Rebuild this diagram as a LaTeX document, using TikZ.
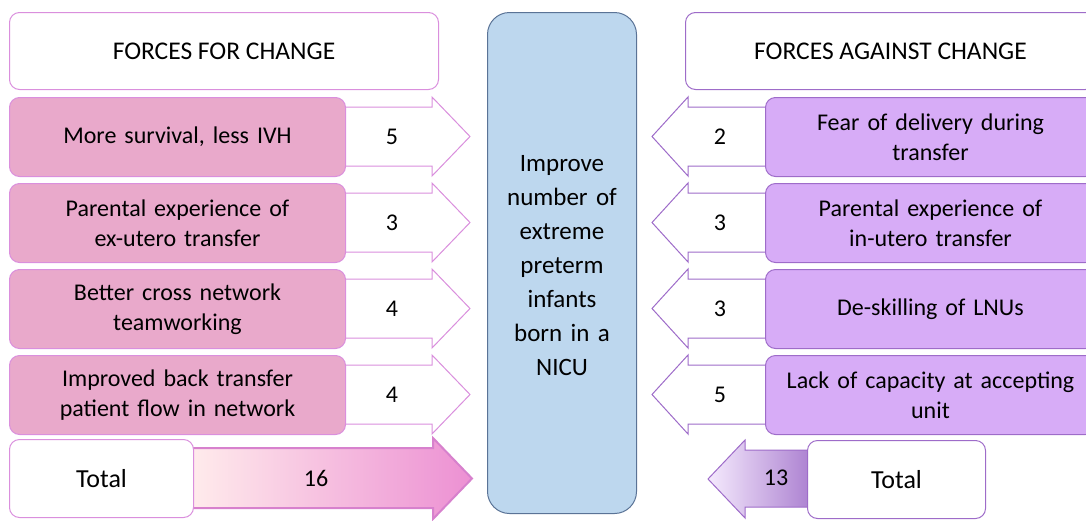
\documentclass[tikz,border=0pt]{standalone}
\usepackage{fontspec}
\setmainfont{Carlito}
\usepackage{xcolor}

\definecolor{forline}{HTML}{DA8FDD}
\definecolor{forfill}{HTML}{E9A9CB}
\definecolor{agline}{HTML}{9E6CC9}
\definecolor{agfill}{HTML}{D7ACF7}
\definecolor{goalfill}{HTML}{BDD7EE}
\definecolor{goalline}{HTML}{5A7396}

\begin{document}
\begin{tikzpicture}[x=1pt,y=-1pt,
  hdrbox/.style={draw, line width=1pt, rounded corners=10pt, fill=white, anchor=north west,
    minimum height=77pt, font=\fontsize{25.5}{30}\selectfont},
  rowbox/.style={draw, line width=1pt, rounded corners=10pt, anchor=north west,
    minimum height=79pt, align=center, font=\fontsize{24}{30}\selectfont},
  forbox/.style={rowbox, draw=forline, fill=forfill, minimum width=336pt, text width=320pt},
  agbox/.style={rowbox, draw=agline, fill=agfill, minimum width=330pt, text width=320pt},
  forarrow/.style={draw=forline, line width=1pt, fill=white},
  agarrow/.style={draw=agline, line width=1pt, fill=white},
  numtxt/.style={font=\fontsize{24}{28}\selectfont},
  totbox/.style={draw, line width=1pt, rounded corners=10pt, fill=white, anchor=north west,
    minimum height=78pt, font=\fontsize{26}{30}\selectfont}]

  \useasboundingbox (0,0) rectangle (1086,520);

  %headers
  \node[hdrbox, draw=forline, minimum width=429pt] (forhdr) at (9,12) {FORCES FOR CHANGE};
  \node[hdrbox, draw=agline, minimum width=410pt] (aghdr) at (685,12) {FORCES AGAINST CHANGE};

  %goal in the middle
  \node[draw=goalline, line width=1pt, fill=goalfill, rounded corners=22pt, anchor=north west,
    minimum width=149pt, minimum height=501pt] (goal) at (487,12) {};
  \node[text width=140pt, align=center, font=\fontsize{25}{34}\selectfont] (goaltxt)
    at ([yshift=-3pt]goal.center)
    {Improve\\ number of\\ extreme\\ preterm\\ infants\\ born in a\\ NICU};

  %arrows for change
  \foreach \yy/\nn/\nm in {97/5/fn1, 183/3/fn2, 269/4/fn3, 355/4/fn4} {
    \draw[forarrow] (340,\yy+10) -- (432,\yy+10) -- (432,\yy) -- (470,\yy+39.5)
      -- (432,\yy+79) -- (432,\yy+69) -- (340,\yy+69) -- cycle;
    \node[numtxt] (\nm) at (392,\yy+39.5) {\nn};
  }

  %arrows against change
  \foreach \yy/\nn/\nm in {97/2/an1, 183/3/an2, 269/3/an3, 355/5/an4} {
    \draw[agarrow] (770,\yy+10) -- (688,\yy+10) -- (688,\yy) -- (652,\yy+39.5)
      -- (688,\yy+79) -- (688,\yy+69) -- (770,\yy+69) -- cycle;
    \node[numtxt] (\nm) at (720,\yy+39.5) {\nn};
  }

  %forces for change
  \node[forbox] (f1) at (9,97)  {More survival, less IVH};
  \node[forbox] (f2) at (9,183) {Parental experience of\\ ex-utero transfer};
  \node[forbox] (f3) at (9,269) {Better cross network\\ teamworking};
  \node[forbox] (f4) at (9,355) {Improved back transfer\\ patient flow in network};

  %forces against change
  \node[agbox] (a1) at (765,97)  {Fear of delivery during\\ transfer};
  \node[agbox] (a2) at (765,183) {Parental experience of\\ in-utero transfer};
  \node[agbox] (a3) at (765,269) {De-skilling of LNUs};
  \node[agbox] (a4) at (765,355) {Lack of capacity at accepting\\ unit};

  %totals
  \draw[draw=forline!90!purple, line width=2pt, left color=pink!30, right color=forfill!85!magenta]
    (190,448) -- (433,448) -- (433,438) -- (472,478.5) -- (433,519) -- (433,508) -- (190,508) -- cycle;
  \node[numtxt] (fsum) at (316,478) {16};
  \node[totbox, draw=forline, minimum width=184pt] (ftot) at (9,439) {Total};

  \draw[draw=agline, line width=1pt, left color=agfill!25, right color=agline!85]
    (810,450) -- (745,450) -- (745,440) -- (708,479) -- (745,518) -- (745,507) -- (810,507) -- cycle;
  \node[numtxt] (asum) at (776,478) {13};
  \node[totbox, draw=agline, minimum width=178pt] (atot) at (807,440) {Total};

\end{tikzpicture}
\end{document}
